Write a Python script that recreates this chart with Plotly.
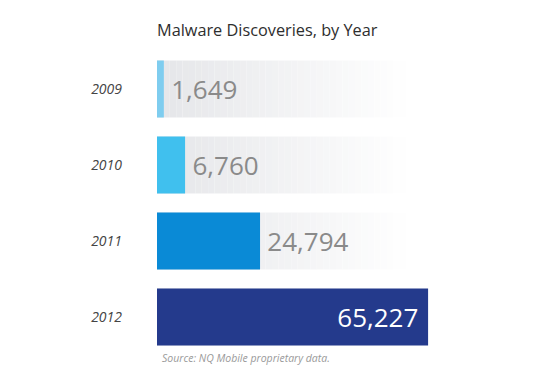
import numpy as np
import plotly.graph_objects as go

# ---- data ----
years = ["2009", "2010", "2011", "2012"]
discoveries = [1649, 6760, 24794, 65227]
bar_colors = ["#7fcdef", "#40c0ee", "#0a8ad6", "#243a8c"]
title_text = "Malware Discoveries, by Year"
source_text = "Source: NQ Mobile proprietary data."

# decorative background track (fades to white)
track_max = 61500
n_seg = 40

fig = go.Figure()

seg_edges = np.linspace(0, track_max, n_seg + 1)
c0 = np.array([229, 230, 233])
c1 = np.array([255, 255, 255])
for i in range(n_seg):
    t = i / (n_seg - 1)
    c = (c0 * (1 - t) + c1 * t).round().astype(int)
    col = f"rgb({c[0]},{c[1]},{c[2]})"
    w = seg_edges[i + 1] - seg_edges[i]
    fig.add_trace(go.Bar(
        y=years, x=[w] * len(years), base=[seg_edges[i]] * len(years),
        orientation="h", marker=dict(color=col, line=dict(width=0)),
        hoverinfo="skip", showlegend=False,
    ))

fig.add_trace(go.Bar(
    y=years, x=discoveries, orientation="h",
    marker=dict(color=bar_colors, line=dict(width=0)),
    texttemplate=["\u2009%{x:,}", "\u2009%{x:,}", "\u2009%{x:,}", "%{x:,}\u00a0"],
    textposition=["outside", "outside", "outside", "inside"],
    insidetextanchor="end",
    insidetextfont=dict(family="Open Sans", size=26, color="#ffffff"),
    outsidetextfont=dict(family="Open Sans", size=26, color="#8a8a8a"),
    cliponaxis=False,
    showlegend=False,
))

fig.update_layout(
    width=550, height=378,
    margin=dict(l=149, r=108, t=43, b=31),
    paper_bgcolor="white", plot_bgcolor="white",
    barmode="overlay", bargap=0.25,
    font=dict(family="Open Sans", color="#333333"),
    title=dict(
        text=title_text, xref="paper", x=0, xanchor="left",
        yref="container", y=1 - 22 / 378, yanchor="middle",
        font=dict(family="Open Sans", size=16.3, color="#2e2e2e"),
    ),
    xaxis=dict(range=[0, 70500], visible=False, fixedrange=True),
    yaxis=dict(
        autorange="reversed", showgrid=False, zeroline=False, showline=False,
        ticks="", ticklabelstandoff=34,
        tickfont=dict(family="Open Sans", size=14, color="#444444", style="italic"),
    ),
    annotations=[dict(
        text=source_text, xref="paper", x=0, xanchor="left", xshift=3,
        yref="paper", y=0, yshift=-3, yanchor="middle", showarrow=False,
        font=dict(family="Open Sans", size=10.5, color="#9a9a9a", style="italic"),
    )],
)

fig.write_html("out.html")
